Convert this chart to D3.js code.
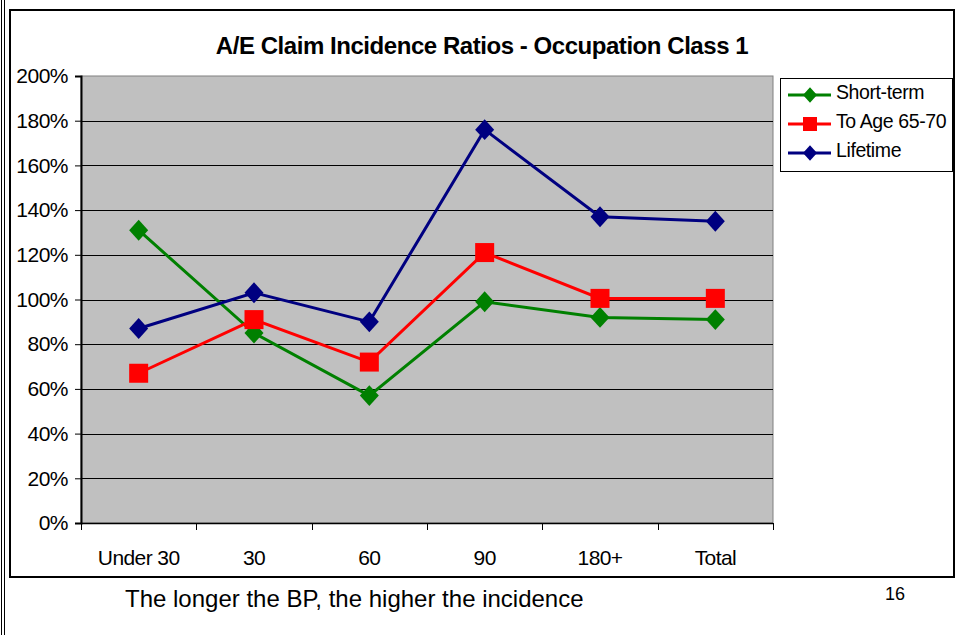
<!DOCTYPE html>
<html>
<head>
<meta charset="utf-8">
<script src="https://cdn.jsdelivr.net/npm/d3@7"></script>
<style>
  html, body { margin: 0; padding: 0; background: #fff; }
  svg { display: block; font-family: "Liberation Sans", Arial, sans-serif; }
</style>
</head>
<body>
<div id="chart"></div>
<script>
// values (percent)
var categories = ["Under 30", "30", "60", "90", "180+", "Total"];
var shortTerm = [131, 85, 57, 99, 92, 91];
var toAge6570 = [67, 91, 72, 121, 100.5, 100.5];
var lifetime = [87, 103, 90, 176, 137, 135];
var yTicks = [0, 20, 40, 60, 80, 100, 120, 140, 160, 180, 200];
var seriesNames = ["Short-term", "To Age 65-70", "Lifetime"];

var series = [
  { name: seriesNames[0], values: shortTerm, color: "#008000", shape: "diamond" },
  { name: seriesNames[1], values: toAge6570, color: "#ff0000", shape: "square" },
  { name: seriesNames[2], values: lifetime, color: "#000080", shape: "diamond" }
];

var W = 956, H = 635;
var svg = d3.select("#chart").append("svg").attr("width", W).attr("height", H);

// page frame (slide edge) and chart box
svg.append("line").attr("x1", 1.5).attr("x2", 1.5).attr("y1", 0).attr("y2", H).attr("stroke", "#000").attr("stroke-width", 1);
svg.append("line").attr("x1", 4.5).attr("x2", 4.5).attr("y1", 0).attr("y2", H).attr("stroke", "#000").attr("stroke-width", 1);
svg.append("rect").attr("x", 10).attr("y", 10).attr("width", 944).attr("height", 567)
  .attr("fill", "#fff").attr("stroke", "#000").attr("stroke-width", 2);

var plot = { left: 81, top: 76, right: 773, bottom: 523 };

var x = d3.scaleBand().domain(categories).range([plot.left, plot.right]).padding(0);
var y = d3.scaleLinear().domain([0, 200]).range([plot.bottom, plot.top]);

// plot area
svg.append("rect").attr("x", plot.left).attr("y", plot.top)
  .attr("width", plot.right - plot.left).attr("height", plot.bottom - plot.top)
  .attr("fill", "#c0c0c0").attr("stroke", "#808080").attr("stroke-width", 1);

// gridlines
svg.append("g").selectAll("line").data(yTicks.filter(function(d) { return d > 0 && d < 200; }))
  .join("line")
  .attr("x1", plot.left).attr("x2", plot.right)
  .attr("y1", function(d) { return Math.round(y(d)) + 0.5; })
  .attr("y2", function(d) { return Math.round(y(d)) + 0.5; })
  .attr("stroke", "#000").attr("stroke-width", 1);

// y axis
var yAxis = svg.append("g").attr("transform", "translate(" + plot.left + ",0)")
  .call(d3.axisLeft(y).tickValues(yTicks).tickFormat(function(d) { return d + "%"; }).tickSize(6).tickPadding(7));
yAxis.select(".domain").attr("stroke", "#000").attr("stroke-width", 2);
yAxis.selectAll(".tick line").attr("stroke", "#000");
yAxis.selectAll("text").attr("font-size", 21).attr("font-family", "Liberation Sans, Arial, sans-serif").attr("fill", "#000").attr("letter-spacing", -0.5);

// x axis: labels centred, ticks on category boundaries
var xAxis = svg.append("g").attr("transform", "translate(0," + plot.bottom + ")")
  .call(d3.axisBottom(x).tickSize(0).tickPadding(0));
xAxis.select(".domain").remove();
xAxis.selectAll("text").attr("font-size", 21).attr("font-family", "Liberation Sans, Arial, sans-serif")
  .attr("fill", "#000").attr("dy", 0).attr("y", 42).attr("letter-spacing", -0.6);
var edges = categories.map(function(c) { return x(c); }).concat([plot.right]);
svg.append("line").attr("x1", plot.left).attr("x2", plot.right).attr("y1", plot.bottom + 0.5).attr("y2", plot.bottom + 0.5)
  .attr("stroke", "#000").attr("stroke-width", 1.5);
svg.append("g").selectAll("line").data(edges).join("line")
  .attr("x1", function(d) { return Math.round(d) + 0.5; }).attr("x2", function(d) { return Math.round(d) + 0.5; })
  .attr("y1", plot.bottom).attr("y2", plot.bottom + 7).attr("stroke", "#000");

// series lines and markers
var cx = function(i) { return x(categories[i]) + x.bandwidth() / 2; };
var line = d3.line().x(function(d, i) { return cx(i); }).y(function(d) { return y(d); });

function marker(g, shape, color, size) {
  if (shape === "square") {
    g.append("rect").attr("x", -size / 2).attr("y", -size / 2).attr("width", size).attr("height", size).attr("fill", color);
  } else {
    var w = size * 0.5, h = size * 0.55;
    g.append("path").attr("d", "M0," + (-h) + "L" + w + ",0L0," + h + "L" + (-w) + ",0Z").attr("fill", color);
  }
}

series.forEach(function(s) {
  svg.append("path").datum(s.values).attr("d", line)
    .attr("fill", "none").attr("stroke", s.color).attr("stroke-width", 3);
  s.values.forEach(function(v, i) {
    var g = svg.append("g").attr("transform", "translate(" + cx(i) + "," + y(v) + ")");
    marker(g, s.shape, s.color, 19);
  });
});

// title
svg.append("text").attr("x", 482).attr("y", 54).attr("text-anchor", "middle")
  .attr("font-size", 24).attr("font-weight", "bold").attr("letter-spacing", -0.45)
  .text("A/E Claim Incidence Ratios - Occupation Class 1");

// legend
var legend = svg.append("g");
legend.append("rect").attr("x", 780.5).attr("y", 78.5).attr("width", 172).attr("height", 93)
  .attr("fill", "#fff").attr("stroke", "#000").attr("stroke-width", 1);
series.forEach(function(s, i) {
  var ly = 95 + i * 29;
  legend.append("line").attr("x1", 788).attr("x2", 831).attr("y1", ly).attr("y2", ly)
    .attr("stroke", s.color).attr("stroke-width", 3);
  var g = legend.append("g").attr("transform", "translate(810," + ly + ")");
  marker(g, s.shape, s.color, 14);
  legend.append("text").attr("x", 836).attr("y", ly + 4)
    .attr("font-size", 19.5).attr("letter-spacing", -0.4).text(s.name);
});

// slide caption and page number
svg.append("text").attr("x", 125).attr("y", 607).attr("font-size", 24).text("The longer the BP, the higher the incidence");
svg.append("text").attr("x", 885).attr("y", 600).attr("font-size", 18).text("16");
</script>
</body>
</html>
